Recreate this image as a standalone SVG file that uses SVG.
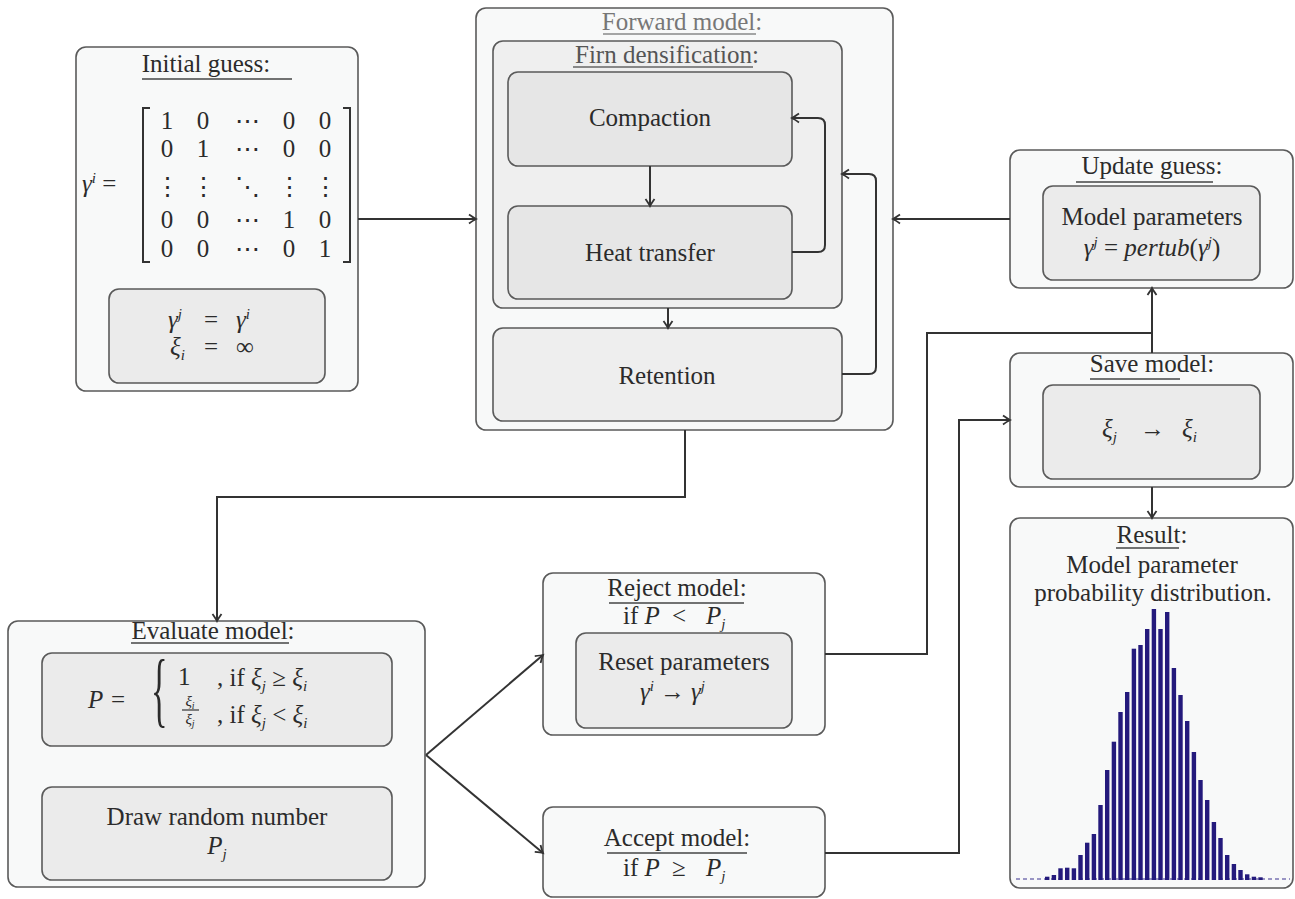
<svg xmlns="http://www.w3.org/2000/svg" width="1295" height="899" viewBox="0 0 1295 899" font-family="'Liberation Serif', 'Times New Roman', 'DejaVu Serif', serif">
<defs>
<style>
.box{fill:#f8f9f9;stroke:#5a5a5a;stroke-width:1.6}
.inner{fill:#ebebeb;stroke:#5a5a5a;stroke-width:1.6}
text{font-family:'Liberation Serif','Times New Roman','DejaVu Serif',serif}
.t{font-size:25px;fill:#2b2b2b;text-anchor:middle}
.s{text-anchor:start}
.i{font-style:italic}
.sm{font-size:15px;font-style:italic}
.ul{stroke:#444;stroke-width:1.5}
.conn{fill:none;stroke:#333;stroke-width:2}
.bar{fill:#241a7c}
</style>
<marker id="arr" markerUnits="userSpaceOnUse" markerWidth="12" markerHeight="12" refX="0" refY="0" orient="auto" overflow="visible">
<path d="M-7,-4.5 Q-2,-1 0,0 Q-2,1 -7,4.5" fill="none" stroke="#333" stroke-width="1.8"/>
</marker>
</defs>
<rect width="1295" height="899" fill="#ffffff"/>

<g id="initial-guess">
<rect class="box" x="76" y="47" width="282" height="344" rx="10"/>
<text class="t" x="206" y="72">Initial guess:</text>
<line class="ul" x1="142" y1="79" x2="292" y2="79"/>
<text class="t s" x="82" y="192"><tspan class="i">γ</tspan><tspan class="sm" dy="-9">i</tspan><tspan dy="9"> =</tspan></text>
<path d="M150,108 H143 V262 H150 M343,108 H350 V262 H343" fill="none" stroke="#333" stroke-width="2"/>
<g>
<text class="t" x="167" y="129">1</text><text class="t" x="203" y="129">0</text><text class="t" x="247" y="129">⋯</text><text class="t" x="289" y="129">0</text><text class="t" x="325" y="129">0</text>
<text class="t" x="167" y="157">0</text><text class="t" x="203" y="157">1</text><text class="t" x="247" y="157">⋯</text><text class="t" x="289" y="157">0</text><text class="t" x="325" y="157">0</text>
<text class="t" x="167" y="195">⋮</text><text class="t" x="203" y="195">⋮</text><text class="t" x="247" y="195">⋱</text><text class="t" x="289" y="195">⋮</text><text class="t" x="325" y="195">⋮</text>
<text class="t" x="167" y="228">0</text><text class="t" x="203" y="228">0</text><text class="t" x="247" y="228">⋯</text><text class="t" x="289" y="228">1</text><text class="t" x="325" y="228">0</text>
<text class="t" x="167" y="257">0</text><text class="t" x="203" y="257">0</text><text class="t" x="247" y="257">⋯</text><text class="t" x="289" y="257">0</text><text class="t" x="325" y="257">1</text>
</g>
<rect class="inner" x="109" y="289" width="216" height="94" rx="10"/>
<text class="t s" x="168" y="328"><tspan class="i">γ</tspan><tspan class="sm" dy="-9">j</tspan><tspan dy="9" x="204">=</tspan><tspan class="i" x="236">γ</tspan><tspan class="sm" dy="-9">i</tspan></text>
<text class="t s" x="170" y="355"><tspan class="i">ξ</tspan><tspan class="sm" dy="5">i</tspan><tspan dy="-5" x="204">=</tspan><tspan x="236">∞</tspan></text>
</g>

<g id="forward-model">
<rect class="box" x="476" y="8" width="417" height="422" rx="10"/>
<text class="t" x="682" y="30" style="fill:#777">Forward model:</text>
<line class="ul" x1="603" y1="34" x2="756" y2="34" style="stroke:#888"/>
</g>

<g id="firn-densification">
<rect class="box" x="493" y="41" width="349" height="267" rx="10" style="fill:#efefef"/>
<text class="t" x="667" y="63" style="fill:#555">Firn densification:</text>
<line class="ul" x1="573" y1="67" x2="753" y2="67" style="stroke:#666"/>
</g>

<g id="compaction">
<rect class="inner" x="508" y="72" width="284" height="94" rx="10" style="fill:#e6e6e6"/>
<text class="t" x="650" y="126">Compaction</text>
</g>

<g id="heat-transfer">
<rect class="inner" x="508" y="206" width="284" height="93" rx="10" style="fill:#e6e6e6"/>
<text class="t" x="650" y="261">Heat transfer</text>
</g>

<g id="retention">
<rect class="inner" x="493" y="328" width="349" height="93" rx="10" style="fill:#eeeeee"/>
<text class="t" x="667" y="384">Retention</text>
</g>

<g id="update-guess">
<rect class="box" x="1010" y="150" width="283" height="138" rx="10"/>
<text class="t" x="1152" y="174">Update guess:</text>
<line class="ul" x1="1076" y1="182" x2="1213" y2="182"/>
<rect class="inner" x="1043" y="186" width="217" height="94" rx="10"/>
<text class="t" x="1152" y="225">Model parameters</text>
<text class="t" x="1152" y="256"><tspan class="i">γ</tspan><tspan class="sm" dy="-9">j</tspan><tspan dy="9"> = </tspan><tspan class="i">pertub</tspan><tspan>(</tspan><tspan class="i">γ</tspan><tspan class="sm" dy="-9">j</tspan><tspan dy="9">)</tspan></text>
</g>

<g id="save-model">
<rect class="box" x="1010" y="353" width="283" height="134" rx="10"/>
<text class="t" x="1152" y="372">Save model:</text>
<line class="ul" x1="1090" y1="379" x2="1180" y2="379"/>
<rect class="inner" x="1043" y="385" width="217" height="94" rx="10"/>
<text class="t s" x="1102" y="437"><tspan class="i">ξ</tspan><tspan class="sm" dy="5">j</tspan><tspan dy="-5" x="1140">→</tspan><tspan class="i" x="1182">ξ</tspan><tspan class="sm" dy="5">i</tspan></text>
</g>

<g id="result">
<rect class="box" x="1010" y="518" width="283" height="370" rx="10"/>
<text class="t" x="1152" y="543">Result:</text>
<line class="ul" x1="1116" y1="548" x2="1179" y2="548"/>
<text class="t" x="1152" y="573">Model parameter</text>
<text class="t" x="1153" y="601">probability distribution.</text>
<line x1="1016" y1="879" x2="1290" y2="879" stroke="#3a3290" stroke-width="1.2" stroke-dasharray="4 3"/>
<g class="bar">
<rect x="1045.0" y="876.7" width="4.4" height="3.3"/>
<rect x="1051.7" y="875" width="4.4" height="5"/>
<rect x="1058.3" y="868.3" width="4.4" height="11.7"/>
<rect x="1065.0" y="867.7" width="4.4" height="12.3"/>
<rect x="1071.7" y="868.3" width="4.4" height="11.7"/>
<rect x="1078.3" y="855" width="4.4" height="25"/>
<rect x="1085.0" y="842.7" width="4.4" height="37.3"/>
<rect x="1091.7" y="834" width="4.4" height="46"/>
<rect x="1098.3" y="805" width="4.4" height="75"/>
<rect x="1105.0" y="770" width="4.4" height="110"/>
<rect x="1111.7" y="741.7" width="4.4" height="138.3"/>
<rect x="1118.3" y="712" width="4.4" height="168"/>
<rect x="1125.0" y="692" width="4.4" height="188"/>
<rect x="1131.7" y="648.7" width="4.4" height="231.3"/>
<rect x="1138.3" y="645" width="4.4" height="235"/>
<rect x="1145.0" y="629" width="4.4" height="251"/>
<rect x="1151.7" y="609" width="4.4" height="271"/>
<rect x="1158.3" y="629" width="4.4" height="251"/>
<rect x="1165.0" y="612" width="4.4" height="268"/>
<rect x="1171.7" y="668" width="4.4" height="212"/>
<rect x="1178.3" y="695" width="4.4" height="185"/>
<rect x="1185.0" y="721" width="4.4" height="159"/>
<rect x="1191.7" y="752" width="4.4" height="128"/>
<rect x="1198.3" y="780" width="4.4" height="100"/>
<rect x="1205.0" y="800" width="4.4" height="80"/>
<rect x="1211.7" y="822" width="4.4" height="58"/>
<rect x="1218.3" y="838" width="4.4" height="42"/>
<rect x="1225.0" y="855" width="4.4" height="25"/>
<rect x="1231.7" y="864" width="4.4" height="16"/>
<rect x="1238.3" y="870" width="4.4" height="10"/>
<rect x="1245.0" y="874.3" width="4.4" height="5.7"/>
<rect x="1251.7" y="876.7" width="4.4" height="3.3"/>
<rect x="1258.3" y="877.3" width="4.4" height="2.7"/>
</g>
</g>

<g id="evaluate-model">
<rect class="box" x="8" y="621" width="417" height="266" rx="10"/>
<text class="t" x="213" y="639">Evaluate model:</text>
<line class="ul" x1="131" y1="643" x2="289" y2="643"/>
<rect class="inner" x="42" y="653" width="350" height="93" rx="10"/>
<text class="t s" x="88" y="708"><tspan class="i">P</tspan><tspan x="111">=</tspan></text>
<text class="t s" transform="translate(151,717) scale(0.42,1)" style="font-size:82px">{</text>
<text class="t s" x="178" y="685">1</text>
<text class="t s" x="217" y="686">, if <tspan class="i">ξ</tspan><tspan class="sm" dy="5">j</tspan><tspan dy="-5"> ≥ </tspan><tspan class="i">ξ</tspan><tspan class="sm" dy="5">i</tspan></text>
<text class="t" x="190" y="706" style="font-size:15px"><tspan class="i">ξ</tspan><tspan style="font-size:10px;font-style:italic" dy="3">i</tspan></text>
<line x1="182" y1="710" x2="199" y2="710" stroke="#333" stroke-width="1.2"/>
<text class="t" x="190" y="724" style="font-size:15px"><tspan class="i">ξ</tspan><tspan style="font-size:10px;font-style:italic" dy="3">j</tspan></text>
<text class="t s" x="217" y="723">, if <tspan class="i">ξ</tspan><tspan class="sm" dy="5">j</tspan><tspan dy="-5"> &lt; </tspan><tspan class="i">ξ</tspan><tspan class="sm" dy="5">i</tspan></text>
<rect class="inner" x="42" y="787" width="350" height="93" rx="10"/>
<text class="t" x="217" y="825">Draw random number</text>
<text class="t" x="217" y="854"><tspan class="i">P</tspan><tspan class="sm" dy="5">j</tspan></text>
</g>

<g id="reject-model">
<rect class="box" x="543" y="573" width="282" height="162" rx="10"/>
<text class="t" x="677" y="596">Reject model:</text>
<line class="ul" x1="609" y1="603" x2="744" y2="603"/>
<text class="t s" x="623" y="624">if <tspan class="i">P</tspan><tspan x="672">&lt;</tspan><tspan class="i" x="706">P</tspan><tspan class="sm" dy="5">j</tspan></text>
<rect class="inner" x="576" y="633" width="216" height="95" rx="10"/>
<text class="t" x="684" y="670">Reset parameters</text>
<text class="t s" x="640" y="700"><tspan class="i">γ</tspan><tspan class="sm" dy="-9">i</tspan><tspan dy="9" x="660">→</tspan><tspan class="i" x="691">γ</tspan><tspan class="sm" dy="-9">j</tspan></text>
</g>

<g id="accept-model">
<rect class="box" x="543" y="807" width="282" height="90" rx="10"/>
<text class="t" x="677" y="846">Accept model:</text>
<line class="ul" x1="607" y1="853" x2="747" y2="853"/>
<text class="t s" x="623" y="876">if <tspan class="i">P</tspan><tspan x="672">≥</tspan><tspan class="i" x="706">P</tspan><tspan class="sm" dy="5">j</tspan></text>
</g>

<g id="connectors">
<path class="conn" d="M358,219 H476" marker-end="url(#arr)"/>
<path class="conn" d="M1010,219 H893" marker-end="url(#arr)"/>
<path class="conn" d="M650,166 V206" marker-end="url(#arr)"/>
<path class="conn" d="M792,252 H818 Q825,252 825,245 V125 Q825,118 818,118 H792" marker-end="url(#arr)"/>
<path class="conn" d="M668,308 V328" marker-end="url(#arr)"/>
<path class="conn" d="M842,374 H869 Q876,374 876,367 V181 Q876,174 869,174 H842" marker-end="url(#arr)"/>
<path class="conn" d="M685,430 V497 H217 V621" marker-end="url(#arr)"/>
<path class="conn" d="M426,755 L543,655" marker-end="url(#arr)"/>
<path class="conn" d="M426,755 L543,853" marker-end="url(#arr)"/>
<path class="conn" d="M825,654 H927 V333 H1152"/>
<path class="conn" d="M1152,353 V288" marker-end="url(#arr)"/>
<path class="conn" d="M825,853 H959 V420 H1010" marker-end="url(#arr)"/>
<path class="conn" d="M1152,487 V518" marker-end="url(#arr)"/>
</g>
</svg>
